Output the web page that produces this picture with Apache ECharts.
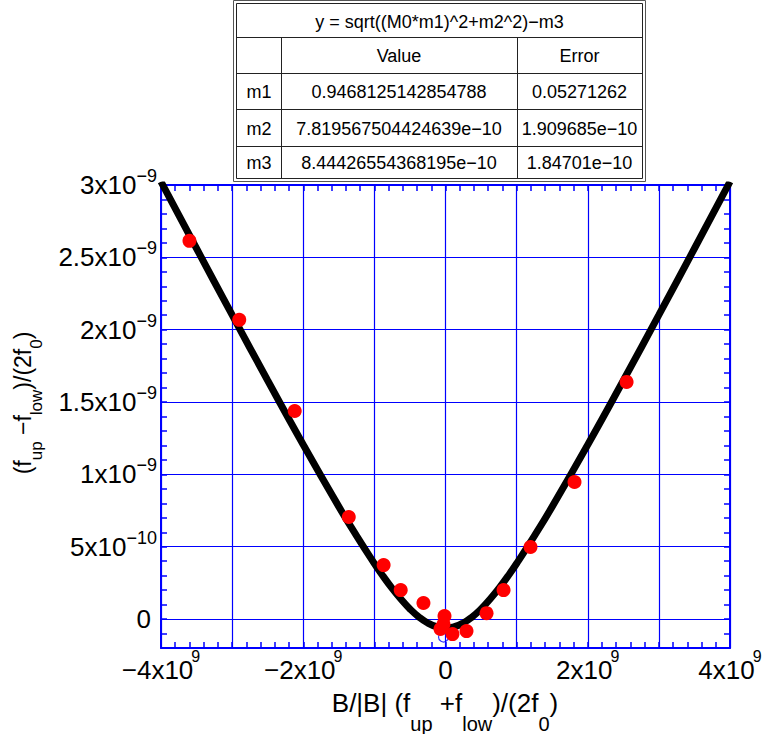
<!DOCTYPE html>
<html>
<head>
<meta charset="utf-8">
<title>fit</title>
<script src="https://cdn.jsdelivr.net/npm/echarts@6/dist/echarts.min.js"></script>
<style>
    html, body { margin: 0; padding: 0; background: #fff; }
    #chart { width: 777px; height: 734px; }
</style>
</head>
<body>
<div id="chart"></div>
<script type="text/javascript">
// measured points (red)
var xPoints = [-3.60e9, -2.90e9, -2.12e9, -1.36e9, -0.87e9, -0.63e9, -0.31e9, -0.014e9, -0.028e9, -0.070e9, 0.098e9, 0.295e9, 0.577e9, 0.816e9, 1.195e9, 1.814e9, 2.546e9];
var yPoints = [2.614e-9, 2.068e-9, 1.438e-9, 0.705e-9, 0.373e-9, 0.200e-9, 0.111e-9, 0.021e-9, -0.035e-9, -0.069e-9, -0.104e-9, -0.083e-9, 0.041e-9, 0.200e-9, 0.498e-9, 0.947e-9, 1.639e-9];
// fitted curve
var xCurve = [-4e9, -3.5e9, -3e9, -2.5e9, -2e9, -1.5e9, -1.25e9, -1e9, -0.875e9, -0.75e9, -0.625e9, -0.5e9, -0.375e9, -0.25e9, -0.125e9, 0,
    0.125e9, 0.25e9, 0.375e9, 0.5e9, 0.625e9, 0.75e9, 0.875e9, 1e9, 1.25e9, 1.5e9, 2e9, 2.5e9, 3e9, 3.5e9, 4e9];
var yCurve = [3.023e-9, 2.561e-9, 2.102e-9, 1.649e-9, 1.205e-9, 0.777e-9, 0.575e-9, 0.384e-9, 0.295e-9, 0.212e-9, 0.137e-9, 0.070e-9, 0.015e-9, -0.027e-9, -0.053e-9, -0.062e-9,
    -0.053e-9, -0.027e-9, 0.015e-9, 0.070e-9, 0.137e-9, 0.212e-9, 0.295e-9, 0.384e-9, 0.575e-9, 0.777e-9, 1.205e-9, 1.649e-9, 2.102e-9, 2.561e-9, 3.023e-9];
// small open marker at the minimum
var xMin = [-0.028e9];
var yMin = [-0.124e-9];

// tick labels
var xTickValues = [-4e9, -2e9, 0, 2e9, 4e9];
var xTickLabels = [['\u22124x10', '9'], ['\u22122x10', '9'], ['0'], ['2x10', '9'], ['4x10', '9']];
var yTickValues = [0, 5e-10, 1e-9, 1.5e-9, 2e-9, 2.5e-9, 3e-9];
var yTickLabels = [['0'], ['5x10', '\u221210'], ['1x10', '\u22129'], ['1.5x10', '\u22129'], ['2x10', '\u22129'], ['2.5x10', '\u22129'], ['3x10', '\u22129']];

// fit table
var fitFormula = 'y = sqrt((M0*m1)^2+m2^2)\u2212m3';
var tableHeader = ['', 'Value', 'Error'];
var paramNames = ['m1', 'm2', 'm3'];
var paramValues = ['0.9468125142854788', '7.819567504424639e\u221210', '8.44426554368195e\u221210'];
var paramErrors = ['0.05271262', '1.909685e\u221210', '1.84701e\u221210'];

var blue = '#0000ff';
var ff = '"Liberation Sans", Arial, Helvetica, sans-serif';

function findTick(list, v, step) {
    for (var i = 0; i < list.length; i++) {
        if (Math.abs(list[i] - v) < step * 1e-3) return i;
    }
    return -1;
}
function pairs(xs, ys) {
    var out = [];
    for (var i = 0; i < xs.length; i++) out.push([xs[i], ys[i]]);
    return out;
}
function tickText(labels, idx) {
    if (idx < 0) return '';
    var t = labels[idx];
    return t.length > 1 ? '{m|' + t[0] + '}{s|' + t[1] + '}' : '{z|' + t[0] + '}';
}

var lineBlue = { color: blue, width: 2 };
var tickBlue = { color: blue, width: 1.5 };

// table graphics
var tx = [237, 281, 517, 642];
var ty = [4, 37, 73, 109, 146, 178];
var tableEls = [
    { type: 'rect', shape: { x: 233.5, y: 0.5, width: 412, height: 181 }, style: { fill: '#fff', stroke: '#555', lineWidth: 1 } },
    { type: 'rect', shape: { x: 236.5, y: 3.5, width: 406, height: 175 }, style: { fill: 'none', stroke: '#222', lineWidth: 1 } }
];
for (var r = 1; r < 5; r++) {
    tableEls.push({ type: 'line', shape: { x1: tx[0], y1: ty[r] + 0.5, x2: tx[3], y2: ty[r] + 0.5 }, style: { stroke: '#222', lineWidth: 1 } });
}
[1, 2].forEach(function (c) {
    tableEls.push({ type: 'line', shape: { x1: tx[c] + 0.5, y1: ty[1], x2: tx[c] + 0.5, y2: ty[5] }, style: { stroke: '#222', lineWidth: 1 } });
});
function cell(text, x, y) {
    return { type: 'text', x: x, y: y, style: { text: text, font: '18px ' + ff, fill: '#000', align: 'center', verticalAlign: 'middle' } };
}
tableEls.push(cell(fitFormula, (tx[0] + tx[3]) / 2, (ty[0] + ty[1]) / 2 + 1));
for (var c = 0; c < 3; c++) {
    tableEls.push(cell(tableHeader[c], (tx[c] + tx[c + 1]) / 2, (ty[1] + ty[2]) / 2 + 1));
}
for (var k = 0; k < 3; k++) {
    var cy = (ty[k + 2] + ty[k + 3]) / 2 + 1;
    tableEls.push(cell(paramNames[k], (tx[0] + tx[1]) / 2, cy));
    tableEls.push(cell(paramValues[k], (tx[1] + tx[2]) / 2, cy));
    tableEls.push(cell(paramErrors[k], (tx[2] + tx[3]) / 2, cy));
}

// axis titles (subscripts pushed down with top padding)
var xTitle = {
    type: 'text', x: 445, y: 712,
    style: {
        text: '{m|B/|B| (f}{b|up}{m| +f}{b|low}{m|)/(2f}{b|0}{m|)}',
        align: 'center', verticalAlign: 'middle',
        rich: {
            m: { fontSize: 26, fontFamily: ff, fill: '#000', verticalAlign: 'top' },
            b: { fontSize: 20, fontFamily: ff, fill: '#000', verticalAlign: 'bottom', padding: [24, 0, 0, 0] }
        }
    }
};
var yTitle = {
    type: 'text', x: 28, y: 403, rotation: Math.PI / 2,
    style: {
        text: '{m|(f}{b|up}{m| \u2212f}{b|low}{m|)/(2f}{b|0}{m|)}',
        align: 'center', verticalAlign: 'middle',
        rich: {
            m: { fontSize: 23, fontFamily: ff, fill: '#000', verticalAlign: 'top' },
            b: { fontSize: 17, fontFamily: ff, fill: '#000', verticalAlign: 'bottom', padding: [17, 0, 0, 0] }
        }
    }
};

var myChart = echarts.init(document.getElementById('chart'), null, { renderer: 'svg' });
var option = {
    backgroundColor: '#fff',
    animation: false,
    grid: { left: 161, right: 47, top: 185, bottom: 86, containLabel: false },
    xAxis: [{
        type: 'value', min: -4e9, max: 4e9, interval: 1e9, position: 'bottom',
        axisLine: { onZero: false, lineStyle: lineBlue },
        axisTick: { inside: true, length: 6, lineStyle: tickBlue },
        minorTick: { show: true, splitNumber: 5, length: 6, lineStyle: tickBlue },
        splitLine: { show: true, lineStyle: { color: blue, width: 1.2 } },
        axisLabel: {
            margin: 0,
            formatter: function (v) { return tickText(xTickLabels, findTick(xTickValues, v, 1e9)); },
            rich: {
                m: { fontSize: 26, fontFamily: ff, color: '#000', verticalAlign: 'bottom' },
                s: { fontSize: 16, fontFamily: ff, color: '#000', verticalAlign: 'top', padding: [0, 0, 19, -2] },
                z: { fontSize: 26, fontFamily: ff, color: '#000', verticalAlign: 'bottom', padding: [9, 0, 0, 0] }
            }
        }
    }, {
        type: 'value', min: -4e9, max: 4e9, interval: 1e9, position: 'top',
        axisLine: { onZero: false, lineStyle: lineBlue },
        axisTick: { inside: true, length: 6, lineStyle: tickBlue },
        minorTick: { show: true, splitNumber: 5, length: 6, lineStyle: tickBlue },
        splitLine: { show: false },
        axisLabel: { show: false }
    }],
    yAxis: [{
        type: 'value', min: -2e-10, max: 3e-9, interval: 1e-10, position: 'left',
        axisLine: { onZero: false, lineStyle: lineBlue },
        axisTick: { inside: true, length: 6, lineStyle: tickBlue },
        splitLine: { show: false },
        axisLabel: {
            margin: 4,
            formatter: function (v) { return tickText(yTickLabels, findTick(yTickValues, v, 1e-10)); },
            rich: {
                m: { fontSize: 26, fontFamily: ff, color: '#000', verticalAlign: 'bottom', padding: [0, 0, 5, 0] },
                s: { fontSize: 18, fontFamily: ff, color: '#000', verticalAlign: 'top', padding: [0, 0, 18, 0] },
                z: { fontSize: 26, fontFamily: ff, color: '#000', padding: [0, 6, 0, 0] }
            }
        }
    }, {
        type: 'value', min: -2e-10, max: 3e-9, interval: 1e-10, position: 'right',
        axisLine: { onZero: false, lineStyle: lineBlue },
        axisTick: { inside: true, length: 6, lineStyle: tickBlue },
        splitLine: { show: false },
        axisLabel: { show: false }
    }, {
        // only draws the horizontal grid every 5e-10
        type: 'value', min: -2e-10, max: 3e-9, splitNumber: 6, position: 'left',
        axisLine: { show: false }, axisTick: { show: false }, axisLabel: { show: false },
        splitLine: { show: true, lineStyle: { color: blue, width: 1.2 } }
    }],
    series: [{
        type: 'line',
        data: pairs(xCurve, yCurve),
        smooth: true,
        showSymbol: false,
        symbol: 'none',
        lineStyle: { color: '#000', width: 7 },
        z: 2,
        silent: true
    }, {
        type: 'scatter',
        data: pairs(xMin, yMin),
        symbolSize: 10,
        itemStyle: { color: 'rgba(255,255,255,0)', borderColor: blue, borderWidth: 1.2 },
        z: 3,
        silent: true
    }, {
        type: 'scatter',
        data: pairs(xPoints, yPoints),
        symbolSize: 14,
        itemStyle: { color: '#ff0000', opacity: 1 },
        z: 4,
        silent: true
    }],
    graphic: tableEls.concat([xTitle, yTitle])
};
myChart.setOption(option);
</script>
</body>
</html>
